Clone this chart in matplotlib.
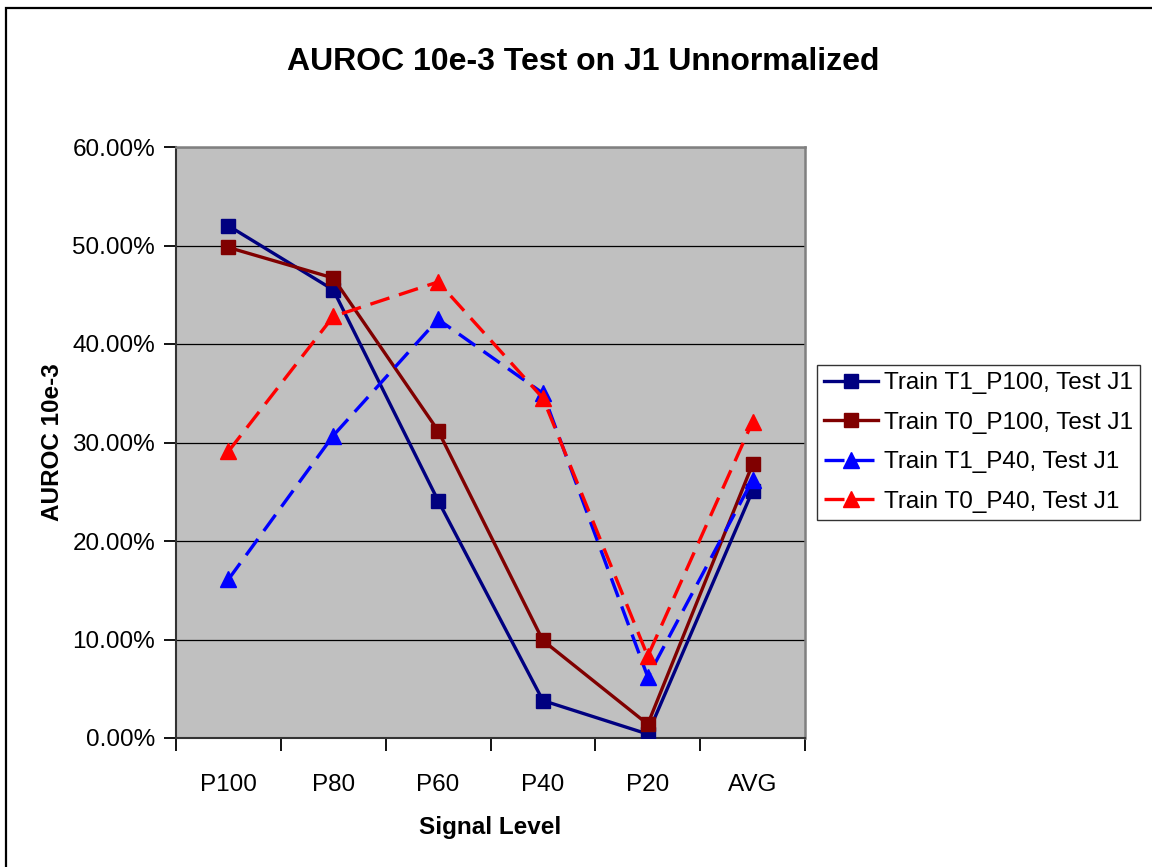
import numpy as np
import matplotlib
matplotlib.use("Agg")
import matplotlib.pyplot as plt
from matplotlib.patches import Rectangle
from matplotlib.ticker import FixedLocator, PercentFormatter

plt.rcParams['font.family'] = ['Liberation Sans', 'DejaVu Sans']

# Datos (AUROC en %)
levels = ["P100", "P80", "P60", "P40", "P20", "AVG"]
t1_p100 = [52.0, 45.5, 24.1, 3.8, 0.4, 25.1]
t0_p100 = [49.8, 46.7, 31.2, 9.9, 1.4, 27.8]
t1_p40 = [16.1, 30.7, 42.5, 35.0, 6.2, 26.2]
t0_p40 = [29.1, 42.8, 46.3, 34.5, 8.3, 32.1]

labels = ["Train T1_P100, Test J1", "Train T0_P100, Test J1",
          "Train T1_P40, Test J1", "Train T0_P40, Test J1"]

fig = plt.figure(figsize=(11.52, 8.67), dpi=100)
ax = fig.add_axes([176 / 1152, 1 - 738 / 867, (805 - 176) / 1152, (738 - 147) / 867])
ax.set_facecolor("#C0C0C0")

x = np.arange(len(levels))
ax.plot(x, t1_p100, color="#000080", lw=2.4, marker="s", ms=10, label=labels[0], zorder=3)
ax.plot(x, t0_p100, color="#800000", lw=2.4, marker="s", ms=10, label=labels[1], zorder=3)
ax.plot(x, t1_p40, color="#0000FF", lw=2.4, marker="^", ms=11, dashes=(6, 3),
        label=labels[2], zorder=4)
ax.plot(x, t0_p40, color="#FF0000", lw=2.4, marker="^", ms=11, dashes=(6, 3),
        label=labels[3], zorder=4)

# Ejes
ax.set_xlim(-0.5, len(levels) - 0.5)
ax.set_ylim(0, 60)
ax.set_yticks(np.arange(0, 61, 10))
ax.yaxis.set_major_formatter(PercentFormatter(decimals=2))
ax.set_xticks(x)
ax.set_xticklabels(levels)
ax.xaxis.set_minor_locator(FixedLocator(np.arange(-0.5, len(levels), 1.0)))
ax.tick_params(axis="x", which="major", length=0, pad=26, labelsize=17.5)
ax.tick_params(axis="x", which="minor", length=9, width=1.3, direction="out")
ax.tick_params(axis="y", length=9, width=1.3, direction="out", pad=6, labelsize=17.5)

ax.grid(axis="y", color="black", lw=0.9)
ax.set_axisbelow(True)
for s in ["top", "right"]:
    ax.spines[s].set_color("#808080")
    ax.spines[s].set_linewidth(1.8)
for s in ["left", "bottom"]:
    ax.spines[s].set_color("#333333")
    ax.spines[s].set_linewidth(1.5)

ax.set_xlabel("Signal Level", fontsize=17.5, fontweight="bold", labelpad=14)
ax.set_ylabel("AUROC 10e-3", fontsize=17.5, fontweight="bold", labelpad=6)

fig.text(583 / 1152, 1 - 62 / 867, "AUROC 10e-3 Test on J1 Unnormalized",
         ha="center", va="center", fontsize=23, fontweight="bold")

leg = fig.legend(loc="upper left", bbox_to_anchor=(817 / 1152, 1 - 365 / 867),
                 fontsize=17.5, frameon=True, fancybox=False, borderpad=0.3,
                 handlelength=2.2, handletextpad=0.25, labelspacing=0.72,
                 borderaxespad=0)
leg.get_frame().set_edgecolor("black")
leg.get_frame().set_linewidth(1.0)

# Marco del gráfico
fig.patches.append(Rectangle((6 / 1152, -0.1), 1.2, 1.1 - 7.5 / 867,
                             transform=fig.transFigure, fill=False,
                             edgecolor="black", lw=1.6))

fig.savefig("out.png", dpi=100)
